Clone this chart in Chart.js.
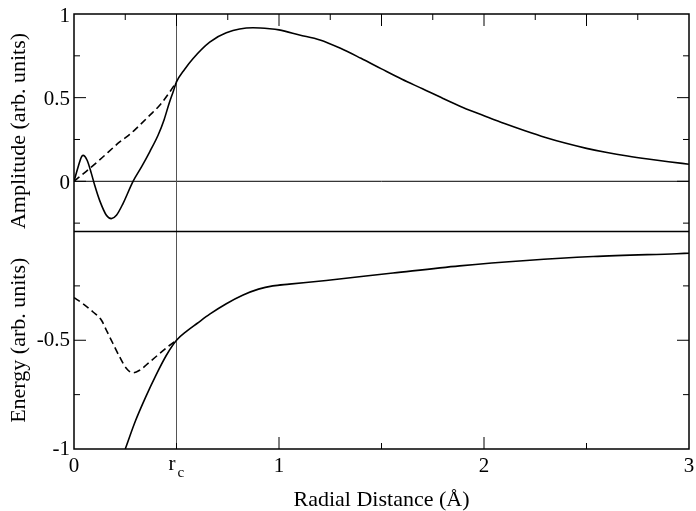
<!DOCTYPE html>
<html>
<head>
<meta charset="utf-8">
<script src="https://cdn.jsdelivr.net/npm/chart.js@4"></script>
<style>
  html, body { margin: 0; padding: 0; background: #fff; }
  #wrap { width: 696px; height: 511px; }
</style>
</head>
<body>
<div id="wrap"><canvas id="chart" width="696" height="511"></canvas></div>
<script>
// top panel: wavefunction amplitude
const ampAllElectronX = [0, 0.02, 0.036, 0.044, 0.064, 0.085, 0.101, 0.125, 0.158, 0.182, 0.207, 0.239, 0.288, 0.33, 0.37, 0.41, 0.44, 0.465, 0.485, 0.5,
  0.54, 0.58, 0.662, 0.743, 0.873, 0.955, 1.0, 1.1, 1.2, 1.3, 1.4, 1.5, 1.6, 1.7, 1.8, 1.9, 2.0, 2.1, 2.2, 2.3, 2.4, 2.5, 2.6, 2.7, 2.8, 2.9, 3.0];
const ampAllElectronY = [0, 0.086, 0.145, 0.155, 0.126, 0.046, -0.024, -0.114, -0.203, -0.223, -0.203, -0.133, 0, 0.088, 0.178, 0.275, 0.37, 0.47, 0.54, 0.594,
  0.67, 0.733, 0.832, 0.888, 0.918, 0.912, 0.905, 0.875, 0.845, 0.795, 0.735, 0.672, 0.61, 0.553, 0.495, 0.44, 0.392, 0.345, 0.302, 0.262, 0.227, 0.197, 0.172, 0.151, 0.133, 0.117, 0.102];
const ampPseudoX = [0, 0.06, 0.125, 0.223, 0.272, 0.32, 0.369, 0.418, 0.467, 0.5];
const ampPseudoY = [0, 0.06, 0.128, 0.235, 0.28, 0.335, 0.394, 0.454, 0.534, 0.594];

// bottom panel: potential energy
const enAllElectronX = [0.25, 0.3, 0.35, 0.4, 0.45, 0.5, 0.55, 0.6, 0.662, 0.743, 0.825, 0.9, 0.97, 1.05, 1.23, 1.556, 1.881, 2.207, 2.532, 2.94, 3.0];
const enAllElectronY = [-1, -0.87, -0.76, -0.66, -0.57, -0.5, -0.458, -0.423, -0.38, -0.332, -0.292, -0.265, -0.25, -0.242, -0.225, -0.191, -0.158, -0.133, -0.115, -0.102, -0.1];
const enPseudoX = [0, 0.044, 0.093, 0.134, 0.158, 0.19, 0.223, 0.256, 0.288, 0.32, 0.369, 0.418, 0.467, 0.5];
const enPseudoY = [-0.304, -0.332, -0.37, -0.408, -0.454, -0.515, -0.577, -0.63, -0.65, -0.638, -0.6, -0.561, -0.523, -0.5];

const cutoffRadius = 0.5;
const xMin = 0, xMax = 3;
const ampMin = -0.3, ampMax = 1;
const enMin = -1, enMax = 0;
const ampTickLabels = [0, 0.5, 1];
const enTickLabels = [-1, -0.5];
const xTickLabels = [0, 1, 2, 3];

const pts = (xs, ys) => xs.map((x, i) => ({ x: x, y: ys[i] }));

const FONT = '"Liberation Serif", "DejaVu Serif", serif';

const lineStyle = {
  borderColor: '#000',
  borderWidth: 1.6,
  pointRadius: 0,
  fill: false,
  cubicInterpolationMode: 'monotone',
};

// frame, inward ticks, labels and guide lines
const framePlugin = {
  id: 'frame',
  beforeDatasetsDraw(chart) {
    const { ctx, scales } = chart;
    const x = scales.x, yA = scales.yA, yE = scales.yE;
    ctx.save();
    ctx.strokeStyle = '#000';
    ctx.lineWidth = 1;
    // amplitude zero line
    const y0 = yA.getPixelForValue(0);
    ctx.beginPath();
    ctx.moveTo(x.left, y0);
    ctx.lineTo(x.right, y0);
    ctx.stroke();
    // r_c line
    const xc = x.getPixelForValue(cutoffRadius);
    ctx.strokeStyle = '#555';
    ctx.beginPath();
    ctx.moveTo(xc, yA.top);
    ctx.lineTo(xc, yE.bottom);
    ctx.stroke();
    ctx.restore();
  },
  afterDraw(chart) {
    const { ctx, scales } = chart;
    const x = scales.x, yA = scales.yA, yE = scales.yE;
    const L = x.left, R = x.right;
    ctx.save();
    ctx.strokeStyle = '#000';
    ctx.lineWidth = 1.5;
    ctx.strokeRect(L, yA.top, R - L, yE.bottom - yA.top);
    ctx.beginPath();
    ctx.moveTo(L, yA.bottom);
    ctx.lineTo(R, yA.bottom);
    ctx.stroke();

    ctx.lineWidth = 1;
    const tick = (x1, y1, x2, y2) => {
      ctx.beginPath();
      ctx.moveTo(x1, y1);
      ctx.lineTo(x2, y2);
      ctx.stroke();
    };
    // top edge ticks
    for (let v = 0.25; v < xMax; v += 0.25) {
      const px = x.getPixelForValue(v);
      const len = Math.abs(v * 2 - Math.round(v * 2)) < 1e-6 ? 12 : 6;
      tick(px, yA.top, px, yA.top + len);
    }
    // bottom edge ticks
    for (let v = 0.5; v < xMax; v += 0.5) {
      const px = x.getPixelForValue(v);
      const len = Math.abs(v - Math.round(v)) < 1e-6 ? 12 : 6;
      tick(px, yE.bottom, px, yE.bottom - len);
    }
    // amplitude side ticks
    for (let v = -0.25; v < ampMax; v += 0.25) {
      const py = yA.getPixelForValue(v);
      const len = Math.abs(v * 2 - Math.round(v * 2)) < 1e-6 ? 12 : 6;
      tick(L, py, L + len, py);
      tick(R, py, R - len, py);
    }
    // energy side ticks
    for (let v = -0.75; v < enMax; v += 0.25) {
      const py = yE.getPixelForValue(v);
      const len = Math.abs(v * 2 - Math.round(v * 2)) < 1e-6 ? 12 : 6;
      tick(L, py, L + len, py);
      tick(R, py, R - len, py);
    }

    // tick labels
    ctx.fillStyle = '#000';
    ctx.font = '21px ' + FONT;
    ctx.textAlign = 'right';
    ctx.textBaseline = 'alphabetic';
    ampTickLabels.forEach(v => ctx.fillText(String(v), L - 4, yA.getPixelForValue(v) + 7.5));
    enTickLabels.forEach(v => ctx.fillText(String(v), L - 4, yE.getPixelForValue(v) + 6));
    ctx.textAlign = 'center';
    const base = yE.bottom + 23;
    xTickLabels.forEach(v => ctx.fillText(String(v), x.getPixelForValue(v), base));
    const xc = x.getPixelForValue(cutoffRadius);
    ctx.textAlign = 'right';
    ctx.fillText('r', xc - 1, base - 2);
    ctx.font = '15px ' + FONT;
    ctx.textAlign = 'left';
    ctx.fillText('c', xc + 1, base + 5);

    // axis titles
    ctx.font = '22px ' + FONT;
    ctx.textAlign = 'center';
    ctx.fillText('Radial Distance (Å)', (L + R) / 2, yE.bottom + 57);
    ctx.textBaseline = 'middle';
    ctx.save();
    ctx.translate(19, 131);
    ctx.rotate(-Math.PI / 2);
    ctx.fillText('Amplitude (arb. units)', 0, 0);
    ctx.restore();
    ctx.save();
    ctx.translate(19, (yE.top + yE.bottom) / 2);
    ctx.rotate(-Math.PI / 2);
    ctx.fillText('Energy (arb. units)', 0, 0);
    ctx.restore();
    ctx.restore();
  },
};

new Chart(document.getElementById('chart'), {
  type: 'line',
  data: {
    datasets: [
      { ...lineStyle, label: 'AE wavefunction', data: pts(ampAllElectronX, ampAllElectronY), yAxisID: 'yA' },
      { ...lineStyle, label: 'PS wavefunction', data: pts(ampPseudoX, ampPseudoY), yAxisID: 'yA', borderDash: [7, 4] },
      { ...lineStyle, label: 'AE potential', data: pts(enAllElectronX, enAllElectronY), yAxisID: 'yE' },
      { ...lineStyle, label: 'PS potential', data: pts(enPseudoX, enPseudoY), yAxisID: 'yE', borderDash: [7, 4] },
    ],
  },
  options: {
    responsive: false,
    animation: false,
    layout: { padding: { left: 74, right: 7, top: 14, bottom: 62 } },
    plugins: { legend: { display: false }, tooltip: { enabled: false } },
    scales: {
      x: { type: 'linear', min: xMin, max: xMax, display: false },
      yE: { type: 'linear', min: enMin, max: enMax, display: false, position: 'left', stack: 'panels', stackWeight: 1 },
      yA: { type: 'linear', min: ampMin, max: ampMax, display: false, position: 'left', stack: 'panels', stackWeight: 1 },
    },
  },
  plugins: [framePlugin],
});
</script>
</body>
</html>
